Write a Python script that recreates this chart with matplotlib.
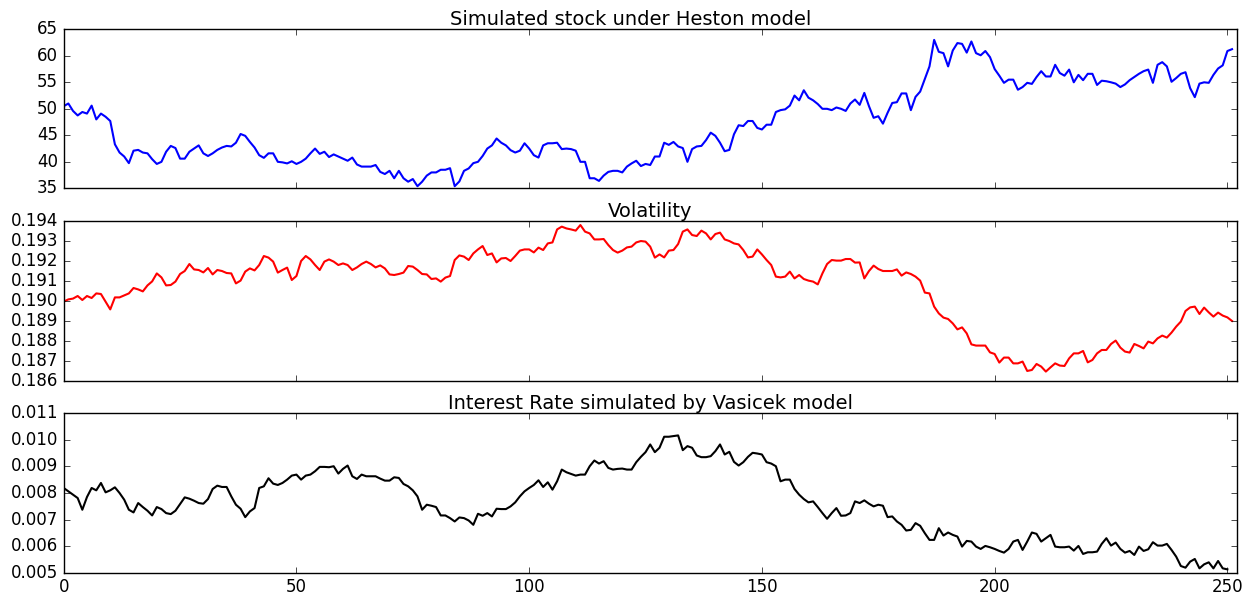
import numpy as np
import matplotlib
matplotlib.use("Agg")
import matplotlib.pyplot as plt
from matplotlib.ticker import FormatStrFormatter

# values
stock = [50.5, 51.0, 49.6, 48.75, 49.4, 49.1, 50.6, 48.0, 49.1, 48.5,
         47.7, 43.3, 41.75, 41.0, 39.75, 42.1, 42.25, 41.75, 41.6, 40.5,
         39.6, 40.0, 41.9, 43.0, 42.6, 40.6, 40.6, 41.9, 42.5, 43.1,
         41.6, 41.1, 41.6, 42.25, 42.7, 43.0, 42.9, 43.6, 45.25, 44.9,
         43.75, 42.7, 41.25, 40.75, 41.6, 41.6, 40.0, 39.9, 39.7, 40.1,
         39.6, 40.0, 40.6, 41.6, 42.5, 41.5, 41.9, 40.9, 41.4, 41.0,
         40.6, 40.2, 40.8, 39.5, 39.1, 39.1, 39.1, 39.4, 38.1, 37.7,
         38.3, 36.9, 38.3, 36.9, 36.25, 36.75, 35.4, 36.25, 37.4, 38.0,
         38.0, 38.5, 38.5, 38.8, 35.4, 36.3, 38.3, 38.75, 39.75, 40.0,
         41.1, 42.5, 43.1, 44.4, 43.6, 43.1, 42.2, 41.75, 42.1, 43.5,
         42.5, 41.25, 40.8, 43.1, 43.5, 43.5, 43.6, 42.4, 42.5, 42.4,
         42.1, 40.0, 40.0, 36.9, 36.9, 36.4, 37.4, 38.1, 38.3, 38.3,
         38.0, 39.1, 39.7, 40.2, 39.2, 39.6, 39.4, 41.0, 41.0, 43.6,
         43.2, 43.75, 42.9, 42.6, 40.0, 42.4, 42.9, 43.0, 44.1, 45.5,
         44.9, 43.6, 42.0, 42.25, 45.2, 46.9, 46.75, 47.7, 47.7, 46.4,
         46.1, 47.0, 47.0, 49.4, 49.75, 49.9, 50.6, 52.5, 51.6, 53.5,
         52.1, 51.6, 50.9, 50.0, 50.0, 49.75, 50.25, 50.0, 49.6, 51.0,
         51.75, 50.75, 53.0, 50.5, 48.3, 48.6, 47.2, 49.25, 51.1, 51.25,
         52.9, 52.9, 49.75, 52.25, 53.25, 55.6, 58.0, 63.0, 60.75, 60.5,
         58.0, 61.0, 62.4, 62.25, 60.6, 62.7, 60.5, 60.1, 60.9, 59.75,
         57.5, 56.25, 54.9, 55.5, 55.5, 53.6, 54.1, 54.9, 54.7, 56.0,
         57.1, 56.1, 56.1, 58.3, 56.75, 56.25, 57.4, 55.0, 56.4, 55.4,
         56.6, 56.6, 54.5, 55.3, 55.2, 55.0, 54.75, 54.1, 54.6, 55.4,
         56.0, 56.6, 57.1, 57.4, 54.9, 58.3, 58.8, 58.0, 55.1, 55.8,
         56.6, 56.9, 53.9, 52.2, 54.75, 55.0, 54.9, 56.4, 57.6, 58.2,
         60.9, 61.25]

volatility = [0.18997, 0.19008, 0.19012, 0.19025, 0.19005, 0.19025, 0.19015, 0.19038, 0.19035, 0.18997,
              0.18958, 0.19018, 0.19018, 0.19028, 0.19038, 0.19065, 0.19058, 0.19048, 0.19078, 0.19098,
              0.19138, 0.19118, 0.19078, 0.19080, 0.19097, 0.19135, 0.19150, 0.19185, 0.19158, 0.19155,
              0.19143, 0.19165, 0.19133, 0.19155, 0.19150, 0.19140, 0.19138, 0.19088, 0.19102, 0.19147,
              0.19163, 0.19153, 0.19180, 0.19225, 0.19217, 0.19197, 0.19142, 0.19155, 0.19167, 0.19105,
              0.19125, 0.19200, 0.19225, 0.19208, 0.19180, 0.19155, 0.19197, 0.19208, 0.19197, 0.19180,
              0.19188, 0.19180, 0.19155, 0.19168, 0.19185, 0.19197, 0.19185, 0.19168, 0.19178, 0.19163,
              0.19133, 0.19130, 0.19135, 0.19142, 0.19175, 0.19172, 0.19155, 0.19135, 0.19133, 0.19110,
              0.19113, 0.19097, 0.19117, 0.19125, 0.19205, 0.19228, 0.19222, 0.19205, 0.19238, 0.19258,
              0.19275, 0.19230, 0.19238, 0.19193, 0.19213, 0.19215, 0.19200, 0.19225, 0.19252, 0.19258,
              0.19258, 0.19243, 0.19267, 0.19255, 0.19288, 0.19293, 0.19358, 0.19372, 0.19363, 0.19358,
              0.19352, 0.19380, 0.19347, 0.19338, 0.19308, 0.19308, 0.19310, 0.19280, 0.19255, 0.19242,
              0.19252, 0.19268, 0.19272, 0.19293, 0.19300, 0.19297, 0.19272, 0.19217, 0.19233, 0.19218,
              0.19252, 0.19255, 0.19285, 0.19347, 0.19358, 0.19330, 0.19325, 0.19352, 0.19338, 0.19308,
              0.19335, 0.19342, 0.19308, 0.19300, 0.19288, 0.19283, 0.19255, 0.19218, 0.19222, 0.19258,
              0.19233, 0.19205, 0.19180, 0.19122, 0.19118, 0.19122, 0.19147, 0.19113, 0.19130, 0.19110,
              0.19102, 0.19097, 0.19083, 0.19138, 0.19185, 0.19205, 0.19202, 0.19202, 0.19210, 0.19210,
              0.19192, 0.19193, 0.19113, 0.19150, 0.19177, 0.19160, 0.19150, 0.19150, 0.19150, 0.19158,
              0.19127, 0.19143, 0.19135, 0.19122, 0.19102, 0.19042, 0.19038, 0.18972, 0.18938, 0.18917,
              0.18910, 0.18888, 0.18858, 0.18868, 0.18838, 0.18783, 0.18777, 0.18777, 0.18777, 0.18743,
              0.18735, 0.18692, 0.18717, 0.18717, 0.18688, 0.18688, 0.18697, 0.18650, 0.18655, 0.18685,
              0.18672, 0.18647, 0.18668, 0.18688, 0.18677, 0.18675, 0.18713, 0.18738, 0.18738, 0.18750,
              0.18693, 0.18705, 0.18738, 0.18755, 0.18755, 0.18785, 0.18802, 0.18767, 0.18747, 0.18742,
              0.18785, 0.18775, 0.18763, 0.18797, 0.18788, 0.18813, 0.18827, 0.18817, 0.18842, 0.18872,
              0.18897, 0.18950, 0.18968, 0.18972, 0.18935, 0.18967, 0.18943, 0.18922, 0.18942, 0.18927,
              0.18918, 0.18900]

rate = [0.008189, 0.008063, 0.007937, 0.007811, 0.007370, 0.007849, 0.008189, 0.008101, 0.008378, 0.008025,
        0.008101, 0.008214, 0.008000, 0.007748, 0.007370, 0.007269, 0.007622, 0.007471, 0.007332, 0.007155,
        0.007471, 0.007395, 0.007244, 0.007206, 0.007332, 0.007584, 0.007836, 0.007786, 0.007710, 0.007622,
        0.007597, 0.007773, 0.008151, 0.008277, 0.008227, 0.008227, 0.007874, 0.007559, 0.007408, 0.007092,
        0.007307, 0.007433, 0.008189, 0.008252, 0.008555, 0.008353, 0.008303, 0.008378, 0.008504, 0.008655,
        0.008693, 0.008504, 0.008655, 0.008693, 0.008819, 0.008983, 0.008983, 0.008971, 0.009008, 0.008731,
        0.008908, 0.009034, 0.008630, 0.008529, 0.008693, 0.008630, 0.008630, 0.008630, 0.008542, 0.008466,
        0.008466, 0.008592, 0.008567, 0.008340, 0.008252, 0.008101, 0.007874, 0.007370, 0.007559, 0.007521,
        0.007471, 0.007155, 0.007155, 0.007055, 0.006929, 0.007080, 0.007055, 0.006966, 0.006803, 0.007218,
        0.007143, 0.007244, 0.007118, 0.007408, 0.007395, 0.007395, 0.007496, 0.007647, 0.007874, 0.008063,
        0.008189, 0.008303, 0.008479, 0.008227, 0.008403, 0.008126, 0.008441, 0.008882, 0.008781, 0.008718,
        0.008655, 0.008693, 0.008693, 0.009008, 0.009223, 0.009109, 0.009197, 0.008945, 0.008882, 0.008908,
        0.008920, 0.008882, 0.008882, 0.009160, 0.009361, 0.009538, 0.009828, 0.009538, 0.009702, 0.010118,
        0.010118, 0.010143, 0.010168, 0.009613, 0.009765, 0.009702, 0.009412, 0.009349, 0.009349, 0.009387,
        0.009576, 0.009828, 0.009450, 0.009550, 0.009172, 0.009034, 0.009160, 0.009361, 0.009513, 0.009487,
        0.009450, 0.009160, 0.009109, 0.009008, 0.008441, 0.008504, 0.008504, 0.008151, 0.007937, 0.007773,
        0.007647, 0.007685, 0.007471, 0.007244, 0.007029, 0.007244, 0.007433, 0.007143, 0.007155, 0.007244,
        0.007685, 0.007622, 0.007723, 0.007597, 0.007496, 0.007559, 0.007521, 0.007092, 0.007118, 0.006929,
        0.006803, 0.006588, 0.006613, 0.006866, 0.006765, 0.006487, 0.006235, 0.006235, 0.006676, 0.006399,
        0.006513, 0.006424, 0.006361, 0.005983, 0.006197, 0.006172, 0.005983, 0.005895, 0.006008, 0.005958,
        0.005895, 0.005819, 0.005756, 0.005895, 0.006172, 0.006235, 0.005857, 0.006172, 0.006513, 0.006462,
        0.006172, 0.006298, 0.006424, 0.005983, 0.005958, 0.005958, 0.005983, 0.005832, 0.006008, 0.005706,
        0.005769, 0.005769, 0.005794, 0.006084, 0.006298, 0.006021, 0.006134, 0.005895, 0.005756, 0.005819,
        0.005668, 0.005983, 0.005819, 0.005882, 0.006147, 0.006021, 0.006021, 0.006084, 0.005857, 0.005605,
        0.005252, 0.005189, 0.005416, 0.005517, 0.005164, 0.005315, 0.005391, 0.005164, 0.005441, 0.005164,
        0.005126]

titles = ["Simulated stock under Heston model", "Volatility",
          "Interest Rate simulated by Vasicek model"]

plt.style.use('classic')
fig = plt.figure(figsize=(12.54, 5.99), dpi=100, facecolor='white')

left, width = 0.0508, 0.9354
rects = [(left, 0.6856, width, 0.2655),
         (left, 0.3640, width, 0.2670),
         (left, 0.0439, width, 0.2661)]
series = [stock, volatility, rate]
colors = ['b', 'r', 'k']
ylims = [(35, 65), (0.186, 0.194), (0.005, 0.011)]
yticks = [np.arange(35, 66, 5), np.arange(0.186, 0.1945, 0.001),
          np.arange(0.005, 0.0115, 0.001)]
title_x = [0.483, 0.5, 0.5]

for k in range(3):
    ax = fig.add_axes(rects[k])
    y = series[k]
    ax.plot(np.arange(len(y)), y, color=colors[k], lw=1.5)
    ax.set_xlim(0, 252)
    ax.set_ylim(*ylims[k])
    ax.set_yticks(yticks[k])
    ax.set_xticks(np.arange(0, 251, 50))
    if k > 0:
        ax.yaxis.set_major_formatter(FormatStrFormatter('%.3f'))
    if k < 2:
        ax.set_xticklabels([])
    ax.set_title(titles[k], fontsize=14, pad=3, x=title_x[k])

fig.savefig('out.png', dpi=100, facecolor='white')
